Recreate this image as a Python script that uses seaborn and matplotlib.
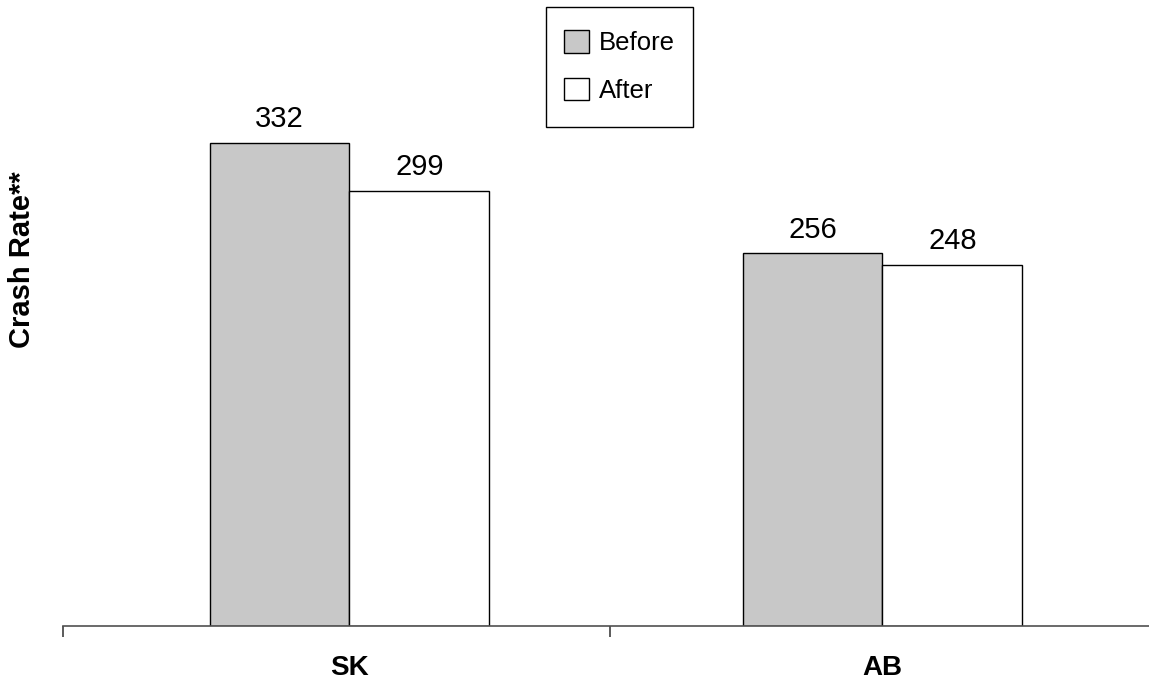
import matplotlib
matplotlib.use("Agg")
import matplotlib.pyplot as plt
import seaborn as sns
import pandas as pd
from matplotlib.patches import Patch, Rectangle

categories = ["SK", "AB"]
periods = ["Before", "After"]
before_vals = [332, 256]
after_vals = [299, 248]

df = pd.DataFrame({
    "Region": categories * 2,
    "Period": [periods[0]] * 2 + [periods[1]] * 2,
    "Rate": before_vals + after_vals,
})

sns.set_theme(style="white")
plt.rcParams["font.family"] = ["Liberation Sans", "DejaVu Sans"]
plt.rcParams["text.color"] = "black"
plt.rcParams["axes.labelcolor"] = "black"
plt.rcParams["xtick.color"] = "black"

W, H = 1149, 682
fig = plt.figure(figsize=(W / 100, H / 100), dpi=100)
ax = fig.add_axes([63 / W, 56 / H, 1086 / W, 626 / H])

colors = {"Before": "#c8c8c8", "After": "#ffffff"}
sns.barplot(data=df, x="Region", y="Rate", hue="Period", order=categories,
            hue_order=periods, palette=colors, width=0.525, edgecolor="black",
            linewidth=1.0, ax=ax, legend=False, saturation=1)

for cont in ax.containers:
    ax.bar_label(cont, padding=7, fontsize=21, color="black")

ax.set_xlim(-0.5375, 1.5)
ax.set_ylim(0, 430)
for s in ["top", "right", "left"]:
    ax.spines[s].set_visible(False)
ax.spines["bottom"].set_color("#505050")
ax.spines["bottom"].set_linewidth(1.2)
ax.set_yticks([])
ax.set_xticks([0, 1])
ax.set_xticklabels(categories, fontsize=20, fontweight="bold", color="black")
ax.tick_params(axis="x", which="major", length=0, pad=21)
ax.set_xticks([-0.5375, 0.4887], minor=True)
ax.tick_params(axis="x", which="minor", length=8, width=1.2, color="#404040",
               direction="out", bottom=True)
ax.set_xlabel("")
ax.set_ylabel("")
fig.text(22 / W, 1 - 260 / H, "Crash Rate**", rotation=90, fontsize=21,
         fontweight="bold", color="black", ha="center", va="center")

# legend frame
fig.patches.append(Rectangle((546 / W, 1 - 127 / H), 147 / W, 120 / H,
                             transform=fig.transFigure, facecolor="white",
                             edgecolor="black", linewidth=1.0, zorder=2))

handles = [Patch(facecolor=colors[p], edgecolor="black", label=p) for p in periods]
leg = fig.legend(handles=handles, loc="upper left",
                 bbox_to_anchor=(541 / W, 1 - 7 / H),
                 frameon=False, fontsize=18.5, handlelength=0.97,
                 handleheight=0.97, handletextpad=0.4, borderpad=0.9,
                 labelspacing=0.87, borderaxespad=0)
leg.set_zorder(3)

fig.savefig("out.png", dpi=100)
